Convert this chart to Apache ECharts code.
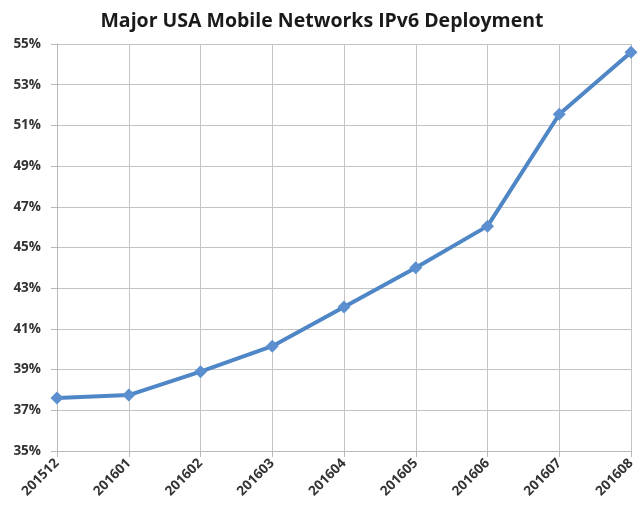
<!DOCTYPE html>
<html><head><meta charset="utf-8">
<script src="https://cdn.jsdelivr.net/npm/echarts@6/dist/echarts.min.js"></script>
<style>html,body{margin:0;padding:0;background:#fff}#c{width:644px;height:505px}</style>
</head><body><div id="c"></div>
<script>
const categories = ['201512','201601','201602','201603','201604','201605','201606','201607','201608'];
const ipv6Share = [37.6, 37.75, 38.9, 40.15, 42.08, 44.0, 46.05, 51.55, 54.6];
const yMin = 35, yMax = 55, yStep = 2;

const chart = echarts.init(document.getElementById('c'));
chart.setOption({
  animation: false,
  backgroundColor: '#fff',
  title: {
    text: 'Major USA Mobile Networks IPv6 Deployment',
    left: 'center', top: 6,
    textStyle: {fontFamily: 'Open Sans', fontWeight: 'bold', fontSize: 19.5, color: '#1a1a1a'}
  },
  grid: {left: 57, right: 13, top: 44, bottom: 54, containLabel: false},
  xAxis: {
    type: 'category', data: categories, boundaryGap: false,
    axisLine: {show: true, lineStyle: {color: '#b8b8b8', width: 1}},
    axisTick: {show: true, alignWithLabel: true, length: 6, lineStyle: {color: '#b8b8b8'}},
    axisLabel: {rotate: 45, margin: 10, fontFamily: 'Open Sans', fontWeight: 'bold', fontSize: 13.5, color: '#333'},
    splitLine: {show: true, lineStyle: {color: '#c4c4c4', width: 1}}
  },
  yAxis: {
    type: 'value', min: yMin, max: yMax, interval: yStep,
    axisLine: {show: true, lineStyle: {color: '#b8b8b8', width: 1}},
    axisTick: {show: true, length: 6, lineStyle: {color: '#b8b8b8'}},
    axisLabel: {formatter: v => v + '%', margin: 16, fontFamily: 'Open Sans', fontWeight: 'bold', fontSize: 13.5, color: '#333'},
    splitLine: {show: true, lineStyle: {color: '#c4c4c4', width: 1}}
  },
  series: [{
    type: 'line', data: ipv6Share,
    symbol: 'diamond', symbolSize: 13,
    lineStyle: {color: '#4f86c6', width: 4},
    itemStyle: {color: '#5b8fcf'}
  }]
});
</script></body></html>
